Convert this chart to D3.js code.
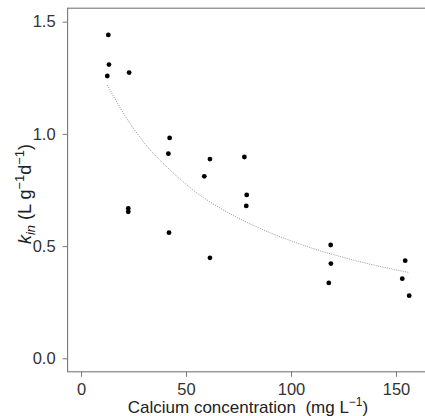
<!DOCTYPE html>
<html>
<head>
<meta charset="utf-8">
<script src="https://cdn.jsdelivr.net/npm/d3@7"></script>
<style>
  body { margin: 0; background: #fff; }
  svg { display: block; font-family: "Liberation Sans", Arial, sans-serif; }
</style>
</head>
<body>
<div id="container"></div>
<script>
// calcium concentration (mg/L) and k_in values
var calcium = [13.0, 13.3, 12.5, 22.9, 22.5, 22.5, 42.2, 41.6, 41.9, 61.4, 58.7, 61.4,
               77.8, 78.9, 78.7, 118.9, 119.0, 118.0, 154.4, 153.0, 156.3];
var kin = [1.441, 1.309, 1.258, 1.273, 0.668, 0.653, 0.982, 0.912, 0.560, 0.888, 0.811, 0.448,
           0.897, 0.728, 0.679, 0.505, 0.422, 0.336, 0.435, 0.355, 0.279];
// fitted curve
var fitX = [12.5, 20, 32.9, 42, 52, 71, 85, 104.3, 130, 155.9];
var fitY = [1.218, 1.095, 0.929, 0.843, 0.760, 0.644, 0.580, 0.509, 0.437, 0.383];
var xTicks = [0, 50, 100, 150];
var yTicks = [0.0, 0.5, 1.0, 1.5];

var width = 425, height = 416;
var x = d3.scaleLinear().domain([-6.4, 166.4]).range([67.6, 430.4]);
var y = d3.scaleLinear().domain([-0.06, 1.56]).range([371.8, 8.2]);

var svg = d3.select('#container').append('svg').attr('width', width).attr('height', height);

// box (right side falls outside the picture)
svg.append('rect').attr('x', x(-6.4)).attr('y', y(1.56))
    .attr('width', x(166.4) - x(-6.4)).attr('height', y(-0.06) - y(1.56))
    .attr('fill', 'none').attr('stroke', '#777').attr('stroke-width', 1.1);

var xAxis = d3.axisBottom(x).tickValues(xTicks).tickFormat(d3.format('d')).tickSize(5).tickSizeOuter(0).tickPadding(6);
var yAxis = d3.axisLeft(y).tickValues(yTicks).tickFormat(d3.format('.1f')).tickSize(5).tickSizeOuter(0).tickPadding(7);

var gx = svg.append('g').attr('transform', 'translate(0,' + y(-0.06) + ')').call(xAxis);
var gy = svg.append('g').attr('transform', 'translate(' + x(-6.4) + ',0)').call(yAxis);
[gx, gy].forEach(function (g) {
    g.select('.domain').remove();
    g.selectAll('line').attr('stroke', '#777');
    g.selectAll('text').attr('fill', '#333').style('font-size', '16.5px').style('font-family', '"Liberation Sans", Arial, sans-serif');
});
gx.selectAll('text').attr('dy', null).attr('y', 23.5);

// fitted curve
var line = d3.line().x(function (d) { return x(d[0]); }).y(function (d) { return y(d[1]); }).curve(d3.curveMonotoneX);
svg.append('path').datum(d3.zip(fitX, fitY)).attr('d', line)
    .attr('fill', 'none').attr('stroke', '#888').attr('stroke-width', 0.9).attr('stroke-dasharray', '1,1.3');

// points
svg.selectAll('.pt').data(d3.zip(calcium, kin)).enter().append('circle').attr('class', 'pt')
    .attr('cx', function (d) { return x(d[0]); }).attr('cy', function (d) { return y(d[1]); })
    .attr('r', 2.4).attr('fill', '#000');

// x title
var xt = svg.append('text').attr('x', 248).attr('y', 413).attr('text-anchor', 'middle')
    .attr('fill', '#222').style('font-size', '17px').style('white-space', 'pre');
xt.append('tspan').text('Calcium concentration  (mg L');
xt.append('tspan').attr('dy', -7).style('font-size', '12px').text('\u22121');
xt.append('tspan').attr('dy', 7).text(')');

// y title
var yt = svg.append('text').attr('transform', 'translate(31,' + 194 + ') rotate(-90)')
    .attr('text-anchor', 'middle').attr('fill', '#222').style('font-size', '18px');
yt.append('tspan').style('font-style', 'italic').text('k');
yt.append('tspan').attr('dy', 4).style('font-style', 'italic').style('font-size', '13px').text('in');
yt.append('tspan').attr('dy', -4).text(' (L g');
yt.append('tspan').attr('dy', -7).style('font-size', '13px').text('\u22121');
yt.append('tspan').attr('dy', 7).text('d');
yt.append('tspan').attr('dy', -7).style('font-size', '13px').text('\u22121');
yt.append('tspan').attr('dy', 7).text(')');
</script>
</body>
</html>
